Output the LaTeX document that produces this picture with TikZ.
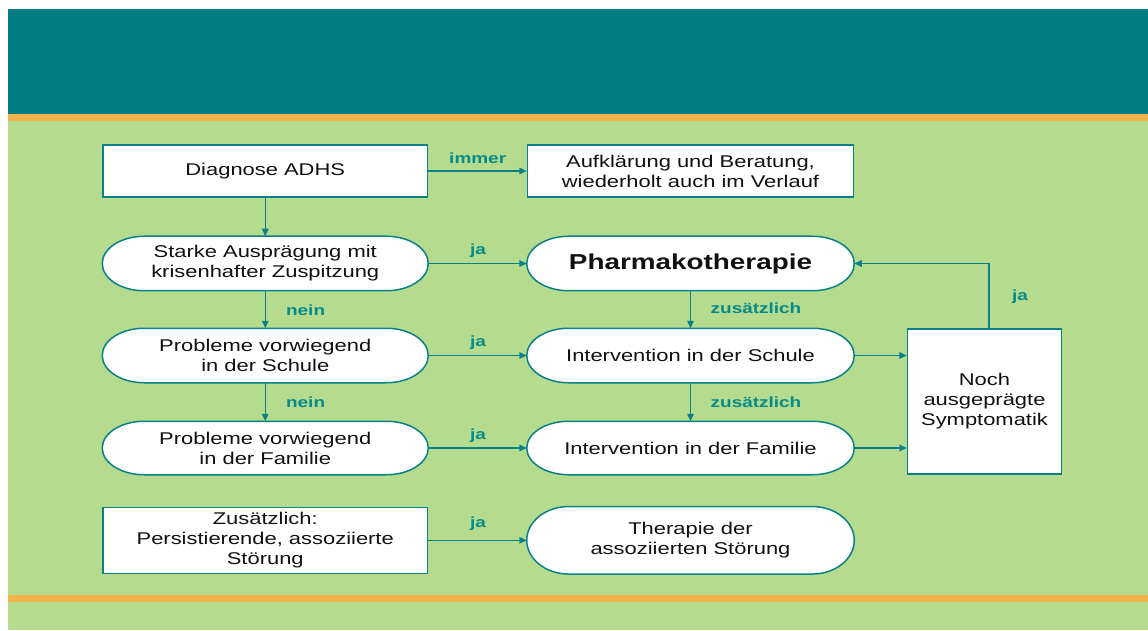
\documentclass[tikz,border=0pt]{standalone}
\usepackage{fontspec}
\setmainfont{Liberation Sans}[FakeStretch=1.29]
\usetikzlibrary{arrows.meta,calc}
\definecolor{hdr}{HTML}{007C80}
\definecolor{grn}{HTML}{B4DB8E}
\definecolor{org}{HTML}{F2B24C}
\definecolor{ln}{HTML}{0A8088}
\definecolor{lbl}{HTML}{078A8A}
\definecolor{txt}{HTML}{111111}
\pgfdeclarelayer{bg}\pgfdeclarelayer{mid}\pgfsetlayers{bg,mid,main}
\newcommand{\stadshape}[1]{%
  \path let \p1=(#1.north west), \p2=(#1.south east), \n1={(\y1-\y2)/2} in
    [fill=white, draw=ln, line width=1.5pt]
    (\x1+42pt,\y1) -- (\x2-42pt,\y1)
    arc[start angle=90,end angle=-90,x radius=42pt,y radius=\n1]
    -- (\x1+42pt,\y2)
    arc[start angle=270,end angle=90,x radius=42pt,y radius=\n1] -- cycle;}
\begin{document}
\begin{tikzpicture}[x=1pt,y=1pt,
  box/.style={draw=ln, fill=white, line width=1.5pt, align=center, inner sep=0pt,
    text=txt, font=\fontsize{17}{20}\selectfont},
  stadium/.style={box, draw=none, fill=none},
  conn/.style={draw=ln, line width=1.5pt, -{Triangle[length=7.5pt,width=6.5pt]}},
  lab/.style={text=lbl, font=\fontsize{14.7}{17}\selectfont\bfseries, inner sep=0pt},
]
\useasboundingbox (0,0) rectangle (1148,630);
\begin{pgfonlayer}{bg}
  \fill[white] (0,0) rectangle (1148,630);
  \fill[hdr] (8,516) rectangle (1148,621);
  \fill[org] (8,509) rectangle (1148,516);
  \fill[grn] (8,35) rectangle (1148,509);
  \fill[org] (8,28) rectangle (1148,35);
  \fill[grn] (8,0) rectangle (1148,28);
\end{pgfonlayer}

% left column
\node[box, minimum width=324.5pt, minimum height=52pt] (diag) at (265.25,459) {Diagnose ADHS};
\node[stadium, minimum width=324.5pt, minimum height=53pt] (starke) at (265.25,366.5) {Starke Ausprägung mit\\krisenhafter Zuspitzung};
\node[stadium, minimum width=324.5pt, minimum height=53pt] (schule) at (265.25,274.5) {Probleme vorwiegend\\in der Schule};
\node[stadium, minimum width=324.5pt, minimum height=52pt] (familie) at (265.25,182) {Probleme vorwiegend\\in der Familie};
\node[box, minimum width=324.5pt, minimum height=66pt] (zus) at (265.25,89.7) {Zusätzlich:\\Persistierende, assoziierte\\Störung};

% middle column
\node[box, minimum width=326pt, minimum height=52pt] (aufk) at (690.5,459) {Aufklärung und Beratung,\\wiederholt auch im Verlauf};
\node[stadium, minimum width=326pt, minimum height=53pt, font=\fontsize{21.6}{24}\selectfont\bfseries] (pharma) at (690.5,366.5) {Pharmakotherapie};
\node[stadium, minimum width=326pt, minimum height=53pt] (ints) at (690.5,274.5) {Intervention in der Schule};
\node[stadium, minimum width=326pt, minimum height=52pt] (intf) at (690.5,182) {Intervention in der Familie};
\node[stadium, minimum width=326pt, minimum height=66pt] (ther) at (690.5,89.7) {Therapie der\\assoziierten Störung};

% right box
\node[box, minimum width=154pt, minimum height=145pt] (noch) at (984.5,228.5) {Noch\\ausgeprägte\\Symptomatik};

\begin{pgfonlayer}{mid}
  \stadshape{starke}
  \stadshape{schule}
  \stadshape{familie}
  \stadshape{pharma}
  \stadshape{ints}
  \stadshape{intf}
  \stadshape{ther}
\end{pgfonlayer}

% connectors
\draw[conn] (diag) -- (aufk);
\draw[conn] (diag) -- (starke);
\draw[conn] (starke) -- (pharma);
\draw[conn] (starke) -- (schule);
\draw[conn] (schule) -- (ints);
\draw[conn] (schule) -- (familie);
\draw[conn] (familie) -- (intf);
\draw[conn] (zus) -- (ther);
\draw[conn] (pharma) -- (ints);
\draw[conn] (ints) -- (intf);
\draw[conn] (ints.east) -- (ints.east -| noch.west);
\draw[conn] (intf.east) -- (intf.east -| noch.west);
\coordinate (nochtop) at ([xshift=4.5pt]noch.north);
\draw[conn] (nochtop) |- (pharma.east);

% labels
\node[lab] (l1) at (477.7,472) {immer};
\node[lab] (l2) at (478,379) {ja};
\node[lab] (l3) at (478,287) {ja};
\node[lab] (l4) at (478,194.3) {ja};
\node[lab] (l5) at (478,106) {ja};
\node[lab] (l6) at (305.6,320) {nein};
\node[lab] (l7) at (305.6,228) {nein};
\node[lab] (l8) at (756,321.5) {zusätzlich};
\node[lab] (l9) at (756,228) {zusätzlich};
\node[lab] (l10) at (1020,333.3) {ja};
\end{tikzpicture}
\end{document}
